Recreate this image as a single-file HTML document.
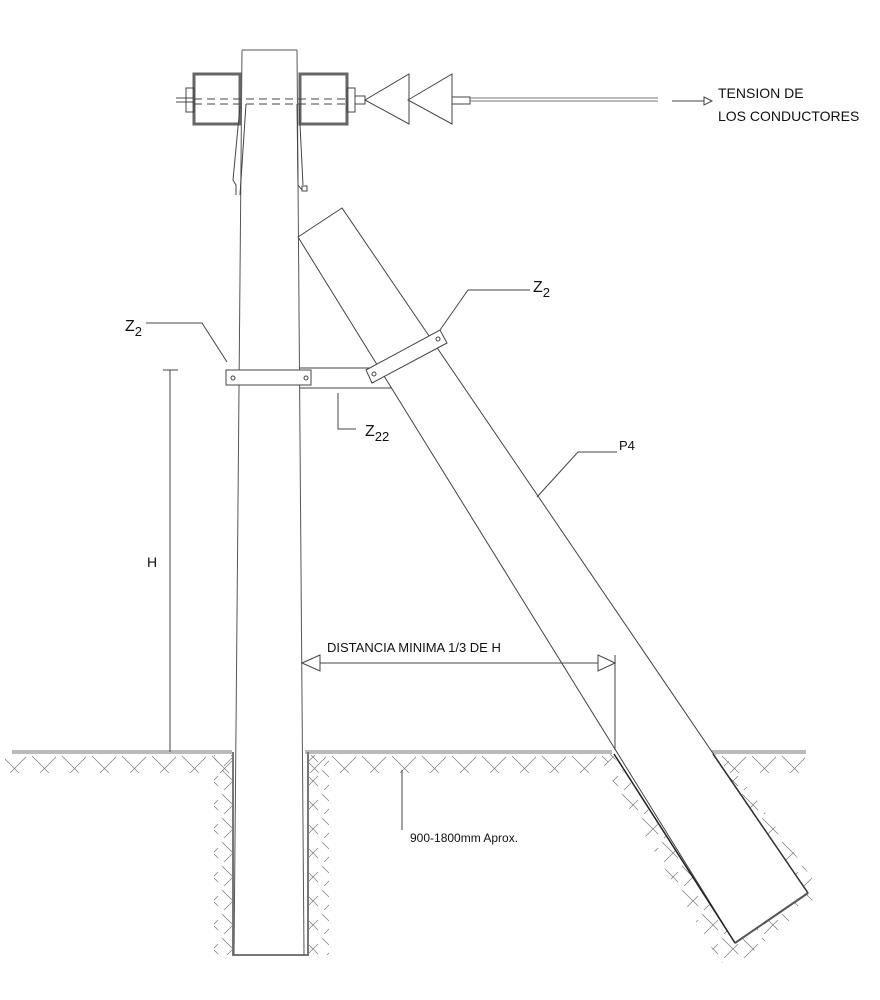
<!DOCTYPE html>
<html><head><meta charset="utf-8"><style>
html,body{margin:0;padding:0;background:#fff;}
svg{display:block;}
text{font-family:"Liberation Sans",Arial,sans-serif;fill:#111;}
</style></head><body>
<svg width="880" height="1000" viewBox="0 0 880 1000" xmlns="http://www.w3.org/2000/svg">
<defs>
<pattern id="hx" width="30" height="26" patternUnits="userSpaceOnUse">
<path d="M2 2 L20 20 M26 3 L10 19" stroke="#777" stroke-width="0.7" fill="none"/>
</pattern>
<pattern id="hv" width="20" height="24" patternUnits="userSpaceOnUse">
<path d="M2 2 L18 18 M18 8 L4 22" stroke="#777" stroke-width="0.7" fill="none"/>
</pattern>
</defs>
<g fill="none" stroke="#444" stroke-width="1">
<!-- ground hatch strips -->
<rect x="5" y="755" width="228" height="18" fill="url(#hx)" stroke="none"/>
<rect x="308" y="755" width="300" height="18" fill="url(#hx)" stroke="none"/>
<rect x="705" y="755" width="100" height="18" fill="url(#hx)" stroke="none"/>
<!-- pit walls -->
<rect x="214" y="755" width="19" height="200" fill="url(#hv)" stroke="none"/>
<rect x="309" y="755" width="20" height="200" fill="url(#hv)" stroke="none"/>
<!-- inclined pit hatch -->
<polygon points="598,756 612,754 735,943 808,893 713,754 725,756 822,892 738,965 720,962" fill="url(#hv)" stroke="none"/>
<polygon points="614,754 736,941 807,893 713,754" fill="#fff" stroke="none"/>

<!-- ground lines -->
<path d="M12 752 H232 M305 752 H612 M700 752 H806" stroke="#777" stroke-width="3"/>
<path d="M12 752 H232 M305 752 H612 M700 752 H806" stroke="#fff" stroke-width="1"/>
<!-- pit outline -->
<path d="M233 752 V955 H308 V752" stroke="#777" stroke-width="2"/>

<!-- main pole -->
<path d="M242 50 L234 955 M297 50 L304 955 M242 50 H297" stroke="#555"/>

<!-- brace pole P4 -->
<path d="M342 208 L298 237 L735 943 L808 893 Z" fill="#fff" stroke="#444"/>
<path d="M614 754 L735 943" stroke="#222" stroke-width="1.5"/>
<path d="M713 754 L808 893" stroke="#333" stroke-width="1.5"/>
<path d="M735 943 L808 893" stroke="#555" stroke-width="2"/>

<!-- top hardware -->
<rect x="194" y="74" width="46" height="50" stroke="#666" stroke-width="3"/>
<rect x="300" y="74" width="47" height="50" stroke="#666" stroke-width="3"/>
<path d="M176 102 H194 M176 98 H194" />
<rect x="186" y="88" width="8" height="24"/>
<rect x="347" y="88" width="8" height="24"/>
<rect x="355" y="96" width="10" height="8"/>
<path d="M194 99 H347 M194 104 H347" stroke-dasharray="8,5"/>
<path d="M365 100 L409 74 V124 Z M408 100 L452 74 V124 Z"/>
<rect x="452" y="97" width="18" height="7"/>
<path d="M470 98 H658 M470 101 H658" stroke="#777"/>
<path d="M672 101 H704"/>
<path d="M704 97 L712 101 L704 105 Z" fill="#fff"/>
<path d="M240 106 L233 180 L236 185 V195 M246 104 L240 195"/>
<path d="M297 104 L298 185 L302 190 M299 104 L303 185"/>
<rect x="302" y="186" width="5" height="5"/>

<!-- Z22 strut -->
<path d="M300 368 H376 M300 388 H392"/>
<rect x="226" y="370" width="85" height="15" fill="#fff"/>
<circle cx="233" cy="378" r="2"/><circle cx="306" cy="378" r="2"/>
<polygon points="366,370 440,330 447,343 372,383" fill="#fff"/>
<circle cx="374" cy="374" r="2"/><circle cx="438" cy="339" r="2"/>

<!-- leaders -->
<path d="M227 362 L202 323 H146"/>
<path d="M440 330 L468 290 H530"/>
<path d="M338 393 V429 H356"/>
<path d="M537 497 L578 452 H617"/>
<path d="M402 770 V830"/>

<path d="M170 370 V752 M163 370 H178"/>
<path d="M302 663 H615 M615 655 V750"/>
<path d="M302 663 L320 655 V671 Z M615 663 L598 655 V671 Z" fill="#fff"/>
</g>

<text x="718" y="98" font-size="14">TENSION DE</text>
<text x="718" y="121" font-size="14">LOS CONDUCTORES</text>
<text x="125" y="331" font-size="16">Z<tspan font-size="13" dy="5">2</tspan></text>
<text x="533" y="292" font-size="16">Z<tspan font-size="13" dy="5">2</tspan></text>
<text x="365" y="436" font-size="16">Z<tspan font-size="13" dy="5">22</tspan></text>
<text x="619" y="450" font-size="13">P4</text>
<text x="147" y="567" font-size="14">H</text>
<text x="327" y="652" font-size="13">DISTANCIA MINIMA 1/3 DE H</text>
<text x="410" y="842" font-size="12">900-1800mm Aprox.</text>
</svg>
</body></html>
